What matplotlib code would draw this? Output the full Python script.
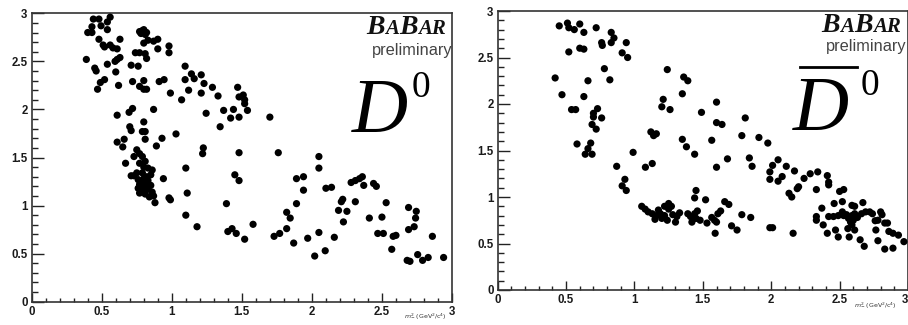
import matplotlib
matplotlib.use('Agg')
import matplotlib.pyplot as plt
from matplotlib.lines import Line2D
from matplotlib.ticker import MultipleLocator

# Dalitz plot events, (m2_x, m2_y) in GeV^2/c^4
d0_pts = [
    (0.44, 2.94), (0.48, 2.94), (0.56, 2.96), (0.54, 2.91), (0.43, 2.86), (0.495, 2.87),
    (0.54, 2.83), (0.40, 2.80), (0.43, 2.80), (0.48, 2.73), (0.51, 2.67), (0.52, 2.65),
    (0.56, 2.67), (0.58, 2.64), (0.61, 2.63), (0.63, 2.73), (0.61, 2.52), (0.595, 2.50),
    (0.54, 2.47), (0.63, 2.54), (0.39, 2.52), (0.45, 2.43), (0.46, 2.40), (0.60, 2.39),
    (0.52, 2.31), (0.49, 2.28), (0.47, 2.21), (0.62, 2.25),
    (0.77, 2.81), (0.80, 2.83), (0.82, 2.80), (0.78, 2.79), (0.81, 2.78), (0.79, 2.82),
    (0.80, 2.69), (0.83, 2.72), (0.87, 2.71), (0.90, 2.73), (0.90, 2.63), (0.98, 2.66),
    (0.98, 2.59), (0.74, 2.59), (0.77, 2.59), (0.81, 2.58), (0.82, 2.53), (0.71, 2.46),
    (0.76, 2.45), (0.72, 2.29), (0.77, 2.24), (0.80, 2.30), (0.82, 2.21), (0.80, 2.21),
    (0.91, 2.29), (0.945, 2.31), (0.99, 2.17),
    (1.095, 2.45), (1.095, 2.31), (1.14, 2.37), (1.16, 2.32), (1.21, 2.36), (1.12, 2.20),
    (1.07, 2.10), (1.23, 2.27), (1.21, 2.17), (1.29, 2.23), (1.33, 2.14), (1.245, 1.96),
    (1.37, 1.99), (1.44, 2.00), (1.42, 1.91), (1.48, 1.92), (1.345, 1.82), (1.47, 2.23),
    (1.48, 2.13), (1.51, 2.15), (1.52, 2.10), (1.52, 2.06), (1.54, 1.99), (1.70, 1.92),
    (0.61, 1.94), (0.695, 1.97), (0.72, 2.01), (0.87, 2.00), (0.70, 1.82), (0.71, 1.78),
    (0.80, 1.87), (0.79, 1.77), (0.81, 1.77), (0.81, 1.69), (0.89, 1.62), (0.93, 1.70),
    (0.61, 1.66), (0.66, 1.69), (0.65, 1.61), (0.67, 1.44), (0.73, 1.51), (0.71, 1.31),
    (1.03, 1.745), (1.225, 1.60), (1.22, 1.54), (1.48, 1.55), (1.76, 1.55),
    (0.75, 1.58), (0.77, 1.54), (0.79, 1.51), (0.81, 1.46), (0.77, 1.44), (0.80, 1.40),
    (0.83, 1.39), (0.86, 1.37), (0.75, 1.34), (0.79, 1.34), (0.85, 1.32), (0.73, 1.31),
    (0.76, 1.27), (0.80, 1.28), (0.83, 1.26), (0.77, 1.22), (0.81, 1.23), (0.85, 1.21),
    (0.76, 1.18), (0.80, 1.18), (0.83, 1.17), (0.77, 1.13), (0.81, 1.12), (0.86, 1.14),
    (0.87, 1.10), (0.84, 1.09), (0.88, 1.03), (0.94, 1.28), (0.98, 1.08), (0.99, 1.06),
    (0.78, 1.25), (0.82, 1.30), (0.79, 1.15),
    (1.10, 1.39), (1.45, 1.32), (1.48, 1.26), (1.11, 1.13), (1.39, 1.02), (1.10, 0.90),
    (1.18, 0.78), (1.40, 0.73), (1.43, 0.76), (1.46, 0.71), (1.52, 0.65), (1.58, 0.805),
    (1.73, 0.68), (1.77, 0.71), (1.82, 0.76), (1.82, 0.93), (1.845, 0.87), (1.87, 0.61),
    (1.89, 1.02), (1.89, 1.28), (1.94, 1.30), (1.94, 1.16), (1.97, 0.66), (2.02, 0.475),
    (2.05, 1.51), (2.05, 1.39), (2.05, 0.72), (2.10, 1.18), (2.14, 1.19), (2.095, 0.53),
    (2.16, 0.67), (2.19, 0.95), (2.21, 1.04), (2.22, 1.065), (2.225, 0.83), (2.25, 0.94),
    (2.28, 1.24), (2.31, 1.26), (2.34, 1.28), (2.36, 1.30), (2.37, 1.21), (2.31, 1.04),
    (2.41, 0.87), (2.44, 1.23), (2.46, 1.20), (2.47, 0.71), (2.51, 0.71), (2.50, 0.88),
    (2.53, 1.03), (2.57, 0.545), (2.58, 0.68), (2.60, 0.69), (2.69, 0.75), (2.68, 0.43),
    (2.70, 0.42), (2.69, 0.98), (2.745, 0.94), (2.74, 0.87), (2.73, 0.78), (2.755, 0.49),
    (2.79, 0.43), (2.83, 0.46), (2.86, 0.68), (2.94, 0.46),
]

d0bar_pts = [
    (0.45, 2.84), (0.51, 2.87), (0.52, 2.82), (0.56, 2.80), (0.60, 2.86), (0.63, 2.77),
    (0.72, 2.82), (0.83, 2.77), (0.85, 2.71), (0.76, 2.66), (0.765, 2.63), (0.83, 2.66),
    (0.94, 2.66), (0.91, 2.55), (0.95, 2.50), (0.52, 2.56), (0.60, 2.60), (0.63, 2.59),
    (0.78, 2.38), (0.82, 2.26), (0.66, 2.25), (0.42, 2.28), (0.47, 2.10), (0.63, 2.08),
    (0.54, 1.94), (0.57, 1.94), (0.73, 1.95), (0.70, 1.90), (0.70, 1.86), (0.76, 1.85),
    (0.69, 1.78), (0.72, 1.73), (0.58, 1.57), (0.64, 1.46), (0.69, 1.46), (0.68, 1.58),
    (0.66, 1.52), (0.99, 1.48), (0.87, 1.33), (0.93, 1.19), (0.91, 1.12), (0.94, 1.07),
    (1.24, 2.37), (1.36, 2.29), (1.39, 2.25), (1.35, 2.11), (1.21, 2.05), (1.20, 1.97),
    (1.26, 1.94), (1.49, 1.91), (1.60, 2.02), (1.60, 1.80), (1.64, 1.78), (1.81, 1.85),
    (1.12, 1.70), (1.14, 1.66), (1.16, 1.68), (1.35, 1.62), (1.38, 1.54), (1.44, 1.46),
    (1.565, 1.61), (1.785, 1.66), (1.91, 1.64), (1.975, 1.58), (1.68, 1.41), (1.84, 1.42),
    (1.86, 1.33), (1.60, 1.32), (1.08, 1.32), (1.13, 1.36), (2.01, 1.34), (1.99, 1.27),
    (1.99, 1.19), (2.05, 1.40), (2.05, 1.17),
    (2.08, 1.22), (2.11, 1.33), (2.13, 1.04), (2.15, 1.00), (2.17, 1.28), (2.20, 1.11),
    (2.19, 1.09), (2.24, 1.20), (2.285, 1.25), (2.34, 1.27), (2.33, 1.08), (2.41, 1.23),
    (2.42, 1.16), (2.42, 1.13), (2.50, 1.06), (2.53, 1.08), (2.46, 0.93), (2.37, 0.88),
    (2.42, 0.79), (2.33, 0.79), (2.33, 0.75), (2.38, 0.70), (2.41, 0.61), (2.47, 0.645),
    (2.49, 0.57), (2.16, 0.61),
    (2.52, 0.84), (2.53, 0.80), (2.55, 0.81), (2.565, 0.77), (2.58, 0.73), (2.59, 0.80),
    (2.60, 0.75), (2.59, 0.70), (2.61, 0.82), (2.63, 0.78), (2.56, 0.66), (2.61, 0.645),
    (2.52, 0.95), (2.59, 0.91), (2.61, 0.90), (2.67, 0.94), (2.66, 0.82), (2.69, 0.84),
    (2.65, 0.54), (2.68, 0.47), (2.72, 0.84), (2.74, 0.82), (2.76, 0.745), (2.78, 0.75),
    (2.765, 0.645), (2.78, 0.53), (2.80, 0.84), (2.81, 0.81), (2.83, 0.72), (2.85, 0.72),
    (2.86, 0.63), (2.83, 0.44), (2.89, 0.45), (2.89, 0.61), (2.93, 0.59), (2.97, 0.52),
    (2.455, 0.79), (2.57, 0.57), (2.49, 0.80),
    (1.053, 0.90), (1.078, 0.87), (1.10, 0.84), (1.13, 0.82), (1.15, 0.76), (1.16, 0.80),
    (1.175, 0.86), (1.19, 0.82), (1.20, 0.77), (1.22, 0.90), (1.22, 0.80), (1.24, 0.75),
    (1.25, 0.93), (1.25, 0.87), (1.27, 0.90), (1.28, 0.81), (1.30, 0.73), (1.31, 0.79),
    (1.33, 0.83), (1.39, 0.82), (1.41, 0.79), (1.42, 0.73), (1.44, 0.82), (1.45, 0.77),
    (1.46, 0.85), (1.48, 0.75), (1.44, 0.99), (1.45, 1.07), (1.52, 0.97), (1.53, 0.72),
    (1.565, 0.78), (1.585, 0.75), (1.60, 0.73), (1.61, 0.82), (1.63, 0.85), (1.59, 0.61),
    (1.66, 0.95), (1.69, 0.92), (1.71, 0.69), (1.75, 0.645), (1.785, 0.81), (1.85, 0.78),
    (1.99, 0.67), (2.01, 0.67),
]

ticks = [0, 0.5, 1, 1.5, 2, 2.5, 3]
tick_labels = ['0', '0.5', '1', '1.5', '2', '2.5', '3']
axis_title = r'$m^2_{-}$ (GeV$^2$/c$^4$)'

W, H = 908, 325
fig = plt.figure(figsize=(W / 100, H / 100), dpi=100)


def box(x0, y0, x1, y1):
    # pixel box -> figure fraction [left, bottom, width, height]
    return [x0 / W, 1 - y1 / H, (x1 - x0) / W, (y1 - y0) / H]


def fx(x, y):
    return x / W, 1 - y / H


def style(ax):
    ax.set_xlim(0, 3)
    ax.set_ylim(0, 3)
    ax.set_xticks(ticks)
    ax.set_xticklabels(tick_labels)
    ax.set_yticks(ticks)
    ax.set_yticklabels(tick_labels)
    ax.xaxis.set_minor_locator(MultipleLocator(0.1))
    ax.yaxis.set_minor_locator(MultipleLocator(0.1))
    ax.tick_params(axis='both', which='both', direction='in', width=1.0,
                   color='#222222', top=False, right=False)
    ax.tick_params(axis='x', which='major', length=6.5, pad=3)
    ax.tick_params(axis='x', which='minor', length=3.2)
    ax.tick_params(axis='y', which='major', length=8.6, pad=3)
    ax.tick_params(axis='y', which='minor', length=4.3)
    for lab in ax.get_xticklabels() + ax.get_yticklabels():
        lab.set_fontfamily('Liberation Sans')
        lab.set_fontweight('bold')
        lab.set_fontsize(8.3)
        lab.set_color('#1a1a1a')
    for sp in ax.spines.values():
        sp.set_linewidth(1.2)
        sp.set_color('#333333')


ax1 = fig.add_axes(box(31.7, 13.3, 452, 301.7))
ax2 = fig.add_axes(box(497.7, 11, 908, 290))

for ax, pts in [(ax1, d0_pts), (ax2, d0bar_pts)]:
    xs, ys = zip(*pts)
    ax.scatter(xs, ys, s=27, c='black', edgecolors='none', zorder=3)
    style(ax)

# last label of the right panel sits at the figure edge
ax2.get_xticklabels()[-1].set_horizontalalignment('right')

renderer = fig.canvas.get_renderer()


def babar(x, y):
    # BaBar logo in small caps, x = left edge, y = baseline (pixels)
    for s, size in [('B', 20), ('A', 15), ('B', 20), ('AR', 15)]:
        t = fig.text(*fx(x, y), s, fontsize=size, family='Liberation Serif',
                     style='italic', weight='bold', va='baseline', ha='left',
                     color='#111111')
        x += t.get_window_extent(renderer).width + 0.5


babar(366, 34)
babar(821, 32)
fig.text(*fx(453, 50), 'preliminary', fontsize=11.8, family='Liberation Sans',
         color='#444444', ha='right', va='center')
fig.text(*fx(907, 47), 'preliminary', fontsize=11.8, family='Liberation Sans',
         color='#444444', ha='right', va='center')

# D0 and anti-D0 labels
fig.text(*fx(352, 132), 'D', fontsize=56, family='Liberation Serif',
         style='italic', ha='left', va='baseline')
fig.text(*fx(412, 97), '0', fontsize=27, family='Liberation Serif',
         ha='left', va='baseline')
fig.text(*fx(793, 130), 'D', fontsize=56, family='Liberation Serif',
         style='italic', ha='left', va='baseline')
fig.text(*fx(861, 95), '0', fontsize=27, family='Liberation Serif',
         ha='left', va='baseline')
x0, y0 = fx(800, 66.5)
x1, _ = fx(857, 66.5)
fig.add_artist(Line2D([x0, x1], [y0, y0], transform=fig.transFigure,
                      color='black', lw=2.0))

# axis titles, squeezed under the last tick labels
fig.text(*fx(447, 321), axis_title, fontsize=4.5, color='#333333',
         ha='right', va='bottom')
fig.text(*fx(897, 310), axis_title, fontsize=4.5, color='#333333',
         ha='right', va='bottom')

fig.savefig('out.png', dpi=100)
